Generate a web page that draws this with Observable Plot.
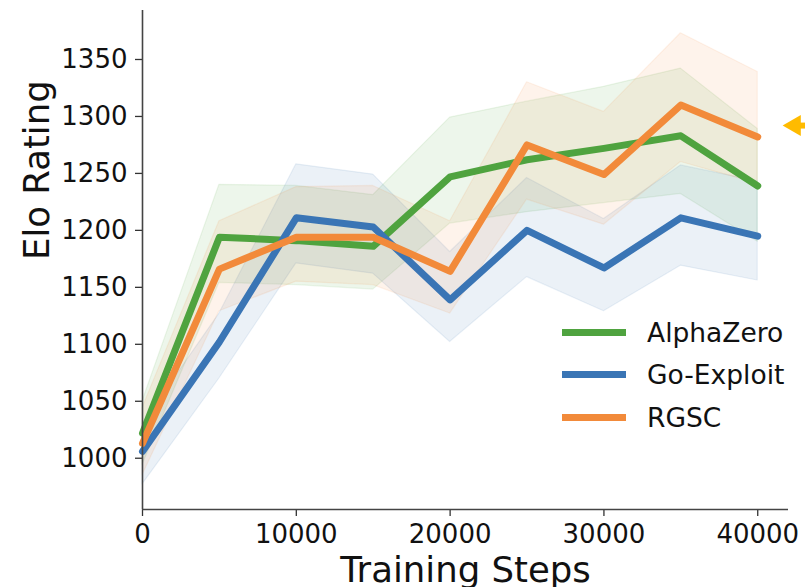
<!DOCTYPE html>
<html>
<head>
<meta charset="utf-8">
<script src="https://cdn.jsdelivr.net/npm/d3@7"></script>
<script src="https://cdn.jsdelivr.net/npm/@observablehq/plot@0.6"></script>
<style>
  html, body { margin: 0; padding: 0; background: #fff; }
  #wrap { position: relative; width: 805px; height: 587px; overflow: hidden; }
  #legend { position: absolute; left: 562px; top: 311px; font-family: "DejaVu Sans", sans-serif; font-size: 26.5px; color: #111; }
  .row { display: flex; align-items: center; height: 42.5px; }
  .sw { width: 64px; height: 7px; margin-right: 21px; }
</style>
</head>
<body>
<div id="wrap"><div id="legend"></div></div>
<script>
const steps = [0, 5000, 10000, 15000, 20000, 25000, 30000, 35000, 40000];

const seriesNames = ["AlphaZero", "Go-Exploit", "RGSC"];
const seriesColors = ["#4fa33f", "#3a75b5", "#f28a3a"];

const azMean = [1022, 1194, 1191, 1186, 1247, 1262, 1272, 1283, 1239];
const azLow  = [994, 1154, 1152, 1148, 1206, 1216, 1224, 1232, 1190];
const azHigh = [1050, 1240, 1239, 1231, 1299, 1313, 1326, 1342, 1289];

const goMean = [1006, 1102, 1211, 1203, 1139, 1200, 1167, 1211, 1195];
const goLow  = [977, 1070, 1171, 1162, 1102, 1159, 1129, 1169, 1156];
const goHigh = [1030, 1127, 1258, 1249, 1181, 1246, 1210, 1257, 1243];

const rgMean = [1013, 1166, 1194, 1194, 1164, 1275, 1249, 1310, 1282];
const rgLow  = [985, 1129, 1155, 1152, 1127, 1227, 1205, 1260, 1241];
const rgHigh = [1044, 1208, 1238, 1239, 1208, 1330, 1304, 1373, 1339];

const xTicks = [0, 10000, 20000, 30000, 40000];
const yTicks = [1000, 1050, 1100, 1150, 1200, 1250, 1300, 1350];

const arrowHead = [{x: 42406, y: 1292}];
const arrowShaft = [{x1: 42750, x2: 44000, y: 1292}];

const means = [azMean, goMean, rgMean];
const lows = [azLow, goLow, rgLow];
const highs = [azHigh, goHigh, rgHigh];

const rows = [];
seriesNames.forEach((name, s) => {
  steps.forEach((st, i) => {
    rows.push({series: name, step: st, mean: means[s][i], low: lows[s][i], high: highs[s][i]});
  });
});

const font = `"DejaVu Sans", sans-serif`;

const marks = [];
seriesNames.forEach((name, s) => {
  const d = rows.filter(r => r.series === name);
  marks.push(Plot.areaY(d, {x: "step", y1: "low", y2: "high", fill: seriesColors[s], fillOpacity: 0.1, stroke: seriesColors[s], strokeOpacity: 0.1, strokeWidth: 1.2}));
});
seriesNames.forEach((name, s) => {
  const d = rows.filter(r => r.series === name);
  marks.push(Plot.line(d, {x: "step", y: "mean", stroke: seriesColors[s], strokeWidth: 7, strokeLinejoin: "round"}));
});

marks.push(
  Plot.axisY({ticks: yTicks, tickSize: 7, tickPadding: 8, fontSize: 26, label: null, tickFormat: d => String(d), stroke: "#333", strokeWidth: 1.3}),
  Plot.axisX({ticks: xTicks, tickSize: 7, tickPadding: 8, fontSize: 26, label: null, tickFormat: d => String(d), stroke: "#333", strokeWidth: 1.3}),
  Plot.ruleX([0], {y1: 955, y2: 1393, stroke: "#444", strokeWidth: 1.6}),
  Plot.ruleY([955], {x1: 0, x2: 42000, stroke: "#444", strokeWidth: 1.6}),
  Plot.text(["Training Steps"], {frameAnchor: "bottom", dy: 72, lineAnchor: "bottom", fontSize: 35.5, fill: "#111"}),
  Plot.text(["Elo Rating"], {frameAnchor: "left", dx: -94, rotate: -90, lineAnchor: "bottom", fontSize: 35.5, fill: "#111"}),
  Plot.dot(arrowHead, {x: "x", y: "y", symbol: "triangle", r: 7.8, rotate: -90, fill: "#ffbb00", stroke: "none"}),
  Plot.link(arrowShaft, {x1: "x1", x2: "x2", y1: "y", y2: "y", stroke: "#ffbb00", strokeWidth: 6})
);

const chart = Plot.plot({
  width: 805,
  height: 587,
  marginLeft: 142,
  marginRight: 17,
  marginTop: 10,
  marginBottom: 78,
  style: {fontFamily: font, color: "#111", background: "#fff", overflow: "hidden"},
  x: {domain: [0, 42000]},
  y: {domain: [955, 1393]},
  marks
});

const wrap = document.getElementById("wrap");
wrap.insertBefore(chart, wrap.firstChild);

const legend = document.getElementById("legend");
seriesNames.forEach((name, s) => {
  const row = document.createElement("div");
  row.className = "row";
  const sw = document.createElement("div");
  sw.className = "sw";
  sw.style.background = seriesColors[s];
  const t = document.createElement("span");
  t.textContent = name;
  row.appendChild(sw);
  row.appendChild(t);
  legend.appendChild(row);
});
</script>
</body>
</html>
